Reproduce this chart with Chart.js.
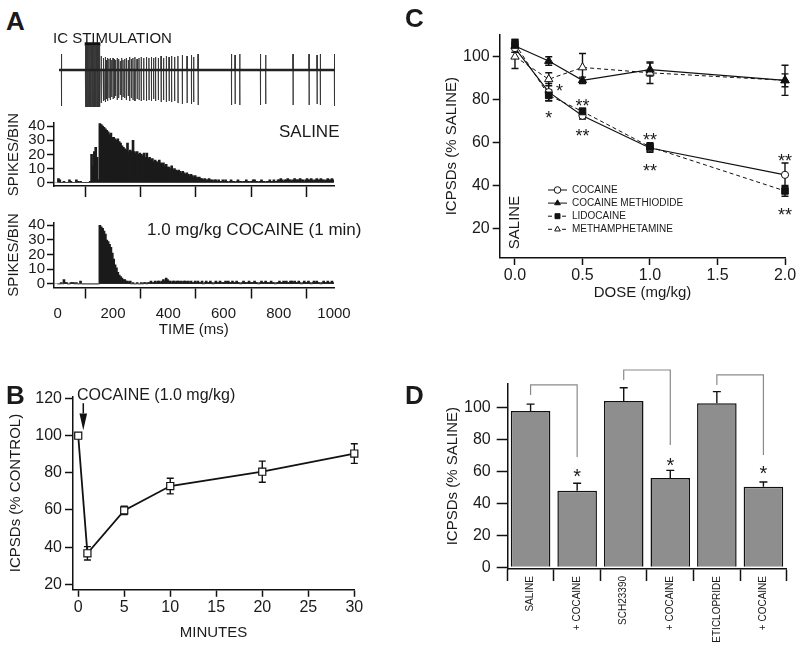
<!DOCTYPE html>
<html>
<head>
<meta charset="utf-8">
<script src="https://cdn.jsdelivr.net/npm/chart.js@4.4.1/dist/chart.umd.min.js"></script>
<style>
  body { margin: 0; background: #fff; }
  #fig { position: relative; width: 800px; height: 647px; overflow: hidden; font-family: 'Liberation Sans', Arial, sans-serif; color: #1a1a1a; }
  canvas { position: absolute; }
  .t { position: absolute; white-space: nowrap; line-height: 1; transform: translateY(-50%); }
  .p { font-weight: bold; font-size: 26px; }
</style>
</head>
<body>
<div id="fig">
  <canvas id="trace" width="300" height="90" style="left:50px;top:30px"></canvas>
  <canvas id="histSaline" width="360" height="95" style="left:0px;top:105px"></canvas>
  <canvas id="histCocaine" width="360" height="140" style="left:0px;top:205px"></canvas>
  <canvas id="timeChart" width="380" height="267" style="left:0px;top:380px"></canvas>
  <canvas id="doseChart" width="380" height="300" style="left:420px;top:20px"></canvas>
  <canvas id="barChart" width="380" height="297" style="left:420px;top:350px"></canvas>

  <div class="t p" style="left:6px;top:21px">A</div>
  <div class="t" style="left:53px;top:37px;font-size:15px">IC STIMULATION</div>
  <div class="t" style="left:279px;top:131px;font-size:17px">SALINE</div>
  <div class="t" style="left:147px;top:229px;font-size:17px">1.0 mg/kg COCAINE (1 min)</div>
  <div class="t p" style="left:6px;top:395px">B</div>
  <div class="t" style="left:77px;top:395px;font-size:16px">COCAINE (1.0 mg/kg)</div>
  <div class="t p" style="left:405px;top:18px">C</div>
  <div class="t p" style="left:405px;top:395px">D</div>
</div>
<script>
// ---- A: raw trace (ms, spike top / bottom in trace units) ----
let spikeTimes = [
  9,
  96, 98, 100, 102, 104, 106, 108, 110, 112, 114, 116, 118, 120, 122,
  124, 126, 128, 130, 132, 134, 136, 138, 140, 142, 144, 146, 148,
  153, 160, 163, 168, 172, 176, 181, 186, 191, 196, 201, 205, 211, 216, 222,
  227, 232, 238, 244, 251, 256, 262, 268, 275, 283, 290, 298, 307, 317, 326,
  335, 343, 350, 360, 370, 379, 389, 399, 408, 419, 431, 447, 464, 480, 488,
  504, 625, 638, 655, 730, 749, 848, 906, 935, 947, 998
]
let spikeTops = [
  16,
  25, 25, 25, 25, 25, 25, 25, 25, 25, 25, 25, 25, 25, 25,
  25, 25, 25, 25, 25, 25, 25, 25, 25, 25, 25, 25, 25,
  14, 12, 11, 13, 10, 12, 11, 12, 10, 12, 11, 10, 12, 11, 9,
  12, 10, 11, 12, 10, 13, 11, 12, 13, 11, 12, 13, 12, 13, 12,
  13, 12, 13, 12, 14, 12, 14, 13, 14, 13, 14, 15, 14, 15, 13,
  16, 16, 15, 16, 16, 15, 16, 16, 15, 16, 16
]
let spikeBottoms = [
  -36,
  -37, -36, -37, -37, -36, -37, -37, -36, -37, -37, -36, -37, -37, -36,
  -37, -37, -36, -37, -37, -36, -37, -37, -36, -37, -37, -36, -37,
  -33, -31, -30, -32, -29, -31, -28, -30, -27, -29, -28, -26, -30, -28, -25,
  -30, -27, -28, -30, -26, -31, -28, -30, -31, -29, -30, -31, -30, -31, -30,
  -31, -29, -31, -30, -32, -30, -32, -31, -32, -31, -33, -34, -33, -34, -32,
  -35, -35, -34, -35, -35, -34, -35, -35, -34, -35, -36
]
let stimWindow = [93, 150]
let stimLevel = 26

// ---- A: histograms, 5 ms bins ----
let binWidth = 5
let salineCounts = [
  3,2,0,0,1,0,0,0,2,1,0,0,0,2,1,0,1,0,0,0,
  0,0,0,1,20,12,22,25,18,2,42,41,40,39,38,37,36,34,35,32,
  32,31,30,31,29,28,26,25,24,23,28,22,23,22,30,22,21,22,20,21,
  20,19,21,18,21,17,18,16,17,15,16,15,14,16,14,13,14,12,13,11,
  11,10,12,9,10,9,8,9,8,7,8,7,6,7,6,5,6,5,4,5,
  4,3,4,3,3,2,3,2,2,3,2,2,1,2,2,1,2,1,1,2,
  1,2,1,0,1,2,1,1,0,1,2,1,1,0,1,1,2,1,0,1,
  1,2,2,1,1,0,1,2,1,1,0,1,1,2,1,1,2,1,1,2,
  2,3,2,1,2,2,3,2,2,1,2,3,2,2,2,3,2,2,1,2,
  3,2,2,3,2,1,2,3,2,2,3,2,2,1,2,3,2,2,3,2
]
let cocaineCounts = [
  0,0,1,0,3,1,1,0,0,1,1,1,0,1,0,0,2,0,0,0,
  0,0,0,0,0,0,0,0,0,0,40,39,38,36,34,30,29,27,25,21,
  17,13,11,8,6,5,4,3,3,2,2,1,2,0,1,0,0,1,0,0,
  1,0,1,1,0,1,1,2,1,1,2,1,2,2,1,2,3,2,4,3,
  2,2,1,2,2,1,2,2,1,2,1,2,2,1,2,1,2,1,1,2,
  1,2,1,1,2,0,1,2,1,1,2,1,0,1,2,1,1,2,1,1,
  1,2,1,2,1,1,2,1,1,2,1,1,0,1,2,1,1,1,2,1,
  1,1,2,1,1,0,1,2,1,1,2,1,1,1,2,1,1,0,1,1,
  2,1,1,2,1,2,1,1,2,2,1,2,1,1,2,1,0,1,2,1,
  1,2,1,0,1,2,1,2,1,1,0,1,2,1,1,2,1,1,2,1
]
let timeTicks = [0, 200, 400, 600, 800, 1000]
let countTicks = [0, 10, 20, 30, 40]

// ---- B: time course ----
let minutes = [0, 1, 5, 10, 20, 30]
let timeCourse = [100, 36.7, 59.8, 72.9, 80.6, 90.4]
let timeCourseErr = [0, 3.6, 2.2, 4.2, 5.7, 5.3]
let minuteTicks = [0, 5, 10, 15, 20, 25, 30]
let controlTicks = [20, 40, 60, 80, 100, 120]
let arrowAt = [0.55, 117.5, 112, 103]   // x, top, neck, tip

// ---- C: dose response ----
let doses = [0, 0.25, 0.5, 1, 2]
let cocaine = [104, 83.5, 72.5, 57.5, 45]
let cocaineErr = [2, 4, 1.5, 2, 5.5]
let methiodide = [105, 98, 89, 94, 89]
let methiodideErr = [3, 2, 1.5, 3, 7]
let lidocaine = [106, 82, 74.5, 58, 37.5]
let lidocaineErr = [2, 2.5, 1.5, 2, 2.5]
let methamphetamine = [100, 89.5, 95, 92.5, 89]
let methamphetamineErr = [5.5, 3, 6.5, 5, 3]
let doseTicks = [0, 0.5, 1, 1.5, 2]
let salineTicks = [20, 40, 60, 80, 100]
let doseStars = [
  [0.33, 86, '*'], [0.25, 73.5, '*'],
  [0.5, 79, '**'], [0.5, 65, '**'],
  [1, 63.4, '**'], [1, 48.6, '**'],
  [2, 53.3, '**'], [2, 28.3, '**']
]

// ---- D: antagonists ----
let groups = ['SALINE', '+ COCAINE', 'SCH23390', '+ COCAINE', 'ETICLOPRIDE', '+ COCAINE']
let groupMeans = [97.7, 47.9, 104, 55.8, 102.5, 50.4]
let groupErr = [4.3, 4.6, 8.2, 4.8, 7.3, 2.9]
let pctTicks = [0, 20, 40, 60, 80, 100]
let pairs = [[0, 1], [2, 3], [4, 5]]
let bracketTop = [114, 123.3, 120.3]
let bracketLeftFoot = [107.7, 117, 114]
let bracketRightFoot = [69, 76.4, 70.2]
let starLevel = [59.7, 67, 62]

let FONT = "'Liberation Sans', Arial, sans-serif"
let INK = '#1a1a1a'
Chart.defaults.font.family = FONT
Chart.defaults.color = INK

/* shared axis builder: fixed box size so chart areas line up with the figure */
function axis(o) {
  return {
    type: 'linear',
    min: o.min,
    max: o.max,
    offset: false,
    afterBuildTicks: s => { s.ticks = o.ticks.map(v => ({ value: v })) },
    afterFit: s => {
      if (o.width !== undefined) s.width = o.width
      if (o.height !== undefined) s.height = o.height
    },
    border: { display: true, color: '#111', width: 1.5 },
    grid: {
      drawOnChartArea: !!o.zeroLine,
      color: o.zeroLine ? (c => (c.tick && c.tick.value === 0 ? '#b4b4b4' : 'rgba(0,0,0,0)')) : '#111',
      tickLength: o.tickLength,
      tickColor: '#111',
      tickWidth: 1.5
    },
    ticks: {
      display: o.labels !== false,
      autoSkip: false,
      maxRotation: 0,
      padding: o.pad || 0,
      font: { size: o.font || 16 },
      color: INK,
      callback: o.fmt || (v => v)
    },
    title: o.title
      ? { display: true, text: o.title, color: INK, font: { size: 15 }, padding: o.titlePad }
      : { display: false }
  }
}

function baseOptions(padding, scales) {
  return {
    responsive: false,
    animation: false,
    layout: { padding: padding },
    plugins: { legend: { display: false }, tooltip: { enabled: false } },
    scales: scales
  }
}

function drawErrors(chart, cap, upOnly) {
  let ctx = chart.ctx
  let yScale = chart.scales.y
  ctx.save()
  ctx.strokeStyle = '#111'
  ctx.lineWidth = 1.4
  chart.data.datasets.forEach((ds, i) => {
    if (!ds.errors) return
    chart.getDatasetMeta(i).data.forEach((el, j) => {
      let err = ds.errors[j]
      if (!err) return
      let raw = ds.data[j]
      let v = typeof raw === 'number' ? raw : raw.y
      let hi = yScale.getPixelForValue(v + err)
      let lo = yScale.getPixelForValue(upOnly ? v : v - err)
      ctx.beginPath()
      ctx.moveTo(el.x, lo); ctx.lineTo(el.x, hi)
      ctx.moveTo(el.x - cap, hi); ctx.lineTo(el.x + cap, hi)
      if (!upOnly) { ctx.moveTo(el.x - cap, lo); ctx.lineTo(el.x + cap, lo) }
      ctx.stroke()
    })
  })
  ctx.restore()
}

function marker(ctx, style, x, y, r, fill) {
  ctx.beginPath()
  if (style === 'circle') {
    ctx.arc(x, y, r, 0, Math.PI * 2)
  } else if (style === 'triangle') {
    ctx.moveTo(x, y - r)
    ctx.lineTo(x + r * 0.866, y + r * 0.5)
    ctx.lineTo(x - r * 0.866, y + r * 0.5)
    ctx.closePath()
  } else {
    ctx.rect(x - r * 0.75, y - r * 0.75, r * 1.5, r * 1.5)
  }
  ctx.fillStyle = fill
  ctx.fill()
  ctx.stroke()
}

function drawStar(ctx, text, x, y, size) {
  ctx.font = size + 'px ' + FONT
  ctx.textAlign = 'center'
  ctx.textBaseline = 'alphabetic'
  ctx.fillText(text, x, y + size * 0.57)
}

/* A: trace */
let tracePts = [{ x: 0, y: 0 }]
spikeTimes.forEach((t, i) => {
  tracePts.push({ x: t - 0.5, y: 0 }, { x: t - 0.15, y: spikeTops[i] }, { x: t + 0.25, y: spikeBottoms[i] }, { x: t + 0.6, y: 0 })
})
tracePts.push({ x: 1000, y: 0 })

new Chart(document.getElementById('trace'), {
  type: 'line',
  data: {
    datasets: [
      { data: [{ x: 0, y: 0 }, { x: 1000, y: 0 }], borderColor: '#222', borderWidth: 2.4, pointRadius: 0, clip: false },
      { data: tracePts, borderColor: '#333', borderWidth: 0.9, pointRadius: 0, tension: 0, clip: false },
      { data: stimWindow.map(t => ({ x: t, y: stimLevel })), borderColor: '#111', borderWidth: 3.5, pointRadius: 0, clip: false }
    ]
  },
  options: baseOptions({ left: 9, right: 15, top: 10, bottom: 10 }, {
    x: { type: 'linear', min: 0, max: 1000, display: false },
    y: { type: 'linear', min: -40, max: 30, display: false }
  })
})

/* A: histograms */
function bins(counts) {
  return counts.map((v, i) => ({ x: i * binWidth + binWidth / 2, y: v }))
}
function histDataset(counts) {
  return { data: bins(counts), backgroundColor: '#1b1b1b', borderWidth: 0, barThickness: 2 }
}

new Chart(document.getElementById('histSaline'), {
  type: 'bar',
  data: { datasets: [histDataset(salineCounts)] },
  options: baseOptions({ left: 0, right: 26, top: 18.2, bottom: 0 }, {
    x: axis({ min: -15, max: 1000, ticks: timeTicks, height: 14, tickLength: 11, labels: false }),
    y: axis({ min: -2.3, max: 42, ticks: countTicks, width: 53.6, tickLength: 6.6, pad: 2, font: 15,
      title: 'SPIKES/BIN', titlePad: { top: 5, bottom: 5 }, zeroLine: true })
  })
})

new Chart(document.getElementById('histCocaine'), {
  type: 'bar',
  data: { datasets: [histDataset(cocaineCounts)] },
  options: baseOptions({ left: 0, right: 26, top: 17.4, bottom: 0 }, {
    x: axis({ min: -15, max: 1000, ticks: timeTicks, height: 57.5, tickLength: 11, pad: 6, font: 15,
      title: 'TIME (ms)', titlePad: { top: 0, bottom: 6.6 } }),
    y: axis({ min: -2.4, max: 42, ticks: countTicks, width: 53.6, tickLength: 6.6, pad: 2, font: 15,
      title: 'SPIKES/BIN', titlePad: { top: 5, bottom: 5 }, zeroLine: true })
  })
})

/* B: time course */
new Chart(document.getElementById('timeChart'), {
  type: 'line',
  data: {
    datasets: [{
      data: minutes.map((m, i) => ({ x: m, y: timeCourse[i] })),
      errors: timeCourseErr,
      borderColor: '#111',
      borderWidth: 1.8,
      tension: 0,
      pointStyle: 'rect',
      pointRadius: 5,
      pointBackgroundColor: '#fff',
      pointBorderColor: '#111',
      pointBorderWidth: 1.2,
      clip: false
    }]
  },
  options: baseOptions({ left: 0, right: 25.7, top: 16.7, bottom: 0 }, {
    x: axis({ min: -0.6, max: 30, ticks: minuteTicks, height: 57.7, tickLength: 7.5, pad: 1,
      title: 'MINUTES', titlePad: { top: 0, bottom: 5.3 } }),
    y: axis({ min: 17.3, max: 121, ticks: controlTicks, width: 72.7, tickLength: 7.7, pad: 3,
      title: 'ICPSDs (% CONTROL)', titlePad: { top: 6.6, bottom: 0 } })
  }),
  plugins: [{
    id: 'timeExtras',
    beforeDatasetsDraw: c => drawErrors(c, 3.5, false),
    afterDatasetsDraw(chart) {
      let { ctx, scales: { x, y } } = chart
      let px = x.getPixelForValue(arrowAt[0])
      let top = y.getPixelForValue(arrowAt[1])
      let neck = y.getPixelForValue(arrowAt[2])
      let tip = y.getPixelForValue(arrowAt[3])
      ctx.save()
      ctx.strokeStyle = '#111'
      ctx.fillStyle = '#111'
      ctx.lineWidth = 1.5
      ctx.beginPath(); ctx.moveTo(px, top); ctx.lineTo(px, neck); ctx.stroke()
      ctx.beginPath(); ctx.moveTo(px - 3.8, neck); ctx.lineTo(px + 3.8, neck); ctx.lineTo(px, tip); ctx.closePath(); ctx.fill()
      ctx.restore()
    }
  }]
})

/* C: dose response */
function doseSeries(label, values, errs, style, fill, dashed, radius, order) {
  return {
    label: label,
    data: doses.map((d, i) => ({ x: d, y: values[i] })),
    errors: errs,
    borderColor: '#111',
    borderWidth: dashed ? 1 : 1.2,
    borderDash: dashed ? [4, 3] : [],
    tension: 0,
    pointStyle: style,
    pointRadius: radius,
    pointBackgroundColor: fill,
    pointBorderColor: '#111',
    pointBorderWidth: 1,
    order: order,
    clip: false
  }
}

new Chart(document.getElementById('doseChart'), {
  type: 'line',
  data: {
    datasets: [
      doseSeries('COCAINE', cocaine, cocaineErr, 'circle', '#fff', false, 3.6, 3),
      doseSeries('COCAINE METHIODIDE', methiodide, methiodideErr, 'triangle', '#111', false, 4.8, 1),
      doseSeries('LIDOCAINE', lidocaine, lidocaineErr, 'rect', '#111', true, 4.7, 0),
      doseSeries('METHAMPHETAMINE', methamphetamine, methamphetamineErr, 'triangle', '#fff', true, 4.8, 2)
    ]
  },
  options: baseOptions({ left: 0, right: 15, top: 15, bottom: 0 }, {
    x: axis({ min: -0.111, max: 2, ticks: doseTicks, height: 62.7, tickLength: 7.7, pad: 1,
      fmt: v => Number(v).toFixed(1), title: 'DOSE (mg/kg)', titlePad: { top: 0, bottom: 17.7 } }),
    y: axis({ min: 6.6, max: 110.1, ticks: salineTicks, width: 80, tickLength: 7.3, pad: 3,
      title: 'ICPSDs (% SALINE)', titlePad: { top: 22.7, bottom: 0 } })
  }),
  plugins: [{
    id: 'doseExtras',
    beforeDatasetsDraw: c => drawErrors(c, 3.5, false),
    afterDraw(chart) {
      let { ctx, chartArea, scales: { x, y } } = chart
      ctx.save()
      ctx.fillStyle = INK
      doseStars.forEach(s => drawStar(ctx, s[2], x.getPixelForValue(s[0]), y.getPixelForValue(s[1]), 18))

      // vertical SALINE tag at dose 0
      ctx.save()
      ctx.translate(x.getPixelForValue(0), y.getPixelForValue(22.8))
      ctx.rotate(-Math.PI / 2)
      ctx.font = '15px ' + FONT
      ctx.textAlign = 'center'
      ctx.textBaseline = 'middle'
      ctx.fillText('SALINE', 0, 0)
      ctx.restore()

      // legend
      ctx.font = '10px ' + FONT
      ctx.textAlign = 'left'
      ctx.textBaseline = 'middle'
      chart.data.datasets.forEach((ds, i) => {
        let ly = chartArea.top + 155 + i * 13.1
        let lx = chartArea.left + 48
        ctx.strokeStyle = '#111'
        ctx.lineWidth = 1
        ctx.setLineDash(ds.borderDash)
        ctx.beginPath(); ctx.moveTo(lx, ly); ctx.lineTo(lx + 19, ly); ctx.stroke()
        ctx.setLineDash([])
        marker(ctx, ds.pointStyle, lx + 9.5, ly, 3.3, ds.pointBackgroundColor)
        ctx.fillStyle = INK
        ctx.fillText(ds.label, lx + 24, ly)
      })
      ctx.restore()
    }
  }]
})

/* D: bars */
new Chart(document.getElementById('barChart'), {
  type: 'bar',
  data: {
    labels: groups,
    datasets: [{
      data: groupMeans,
      errors: groupErr,
      backgroundColor: '#8e8e8e',
      borderColor: '#111',
      borderWidth: 1.5,
      barPercentage: 0.85,
      categoryPercentage: 1
    }]
  },
  options: baseOptions({ left: 0, right: 13.3, top: 33.3, bottom: 0 }, {
    x: {
      type: 'category',
      afterFit: s => { s.height = 78 },
      border: { display: true, color: '#111', width: 1.5 },
      grid: { drawOnChartArea: false, offset: true, tickLength: 12, tickColor: '#111', tickWidth: 1.5 },
      ticks: { autoSkip: false, minRotation: 90, maxRotation: 90, padding: -5, font: { size: 10 }, color: INK }
    },
    y: axis({ min: -1.06, max: 115, ticks: pctTicks, width: 87.3, tickLength: 10.6, pad: 6,
      title: 'ICPSDs (% SALINE)', titlePad: { top: 24.3, bottom: 0 } })
  }),
  plugins: [{
    id: 'barExtras',
    afterDatasetsDraw(chart) {
      drawErrors(chart, 4, true)
      let { ctx, scales: { y } } = chart
      let bars = chart.getDatasetMeta(0).data
      ctx.save()
      ctx.strokeStyle = '#8a8a8a'
      ctx.lineWidth = 1.2
      pairs.forEach((p, k) => {
        let x0 = bars[p[0]].x
        let x1 = bars[p[1]].x
        ctx.beginPath()
        ctx.moveTo(x0, y.getPixelForValue(bracketLeftFoot[k]))
        ctx.lineTo(x0, y.getPixelForValue(bracketTop[k]))
        ctx.lineTo(x1, y.getPixelForValue(bracketTop[k]))
        ctx.lineTo(x1, y.getPixelForValue(bracketRightFoot[k]))
        ctx.stroke()
        ctx.fillStyle = INK
        drawStar(ctx, '*', x1, y.getPixelForValue(starLevel[k]), 20)
      })
      ctx.restore()
    }
  }]
})
</script>
</body>
</html>
